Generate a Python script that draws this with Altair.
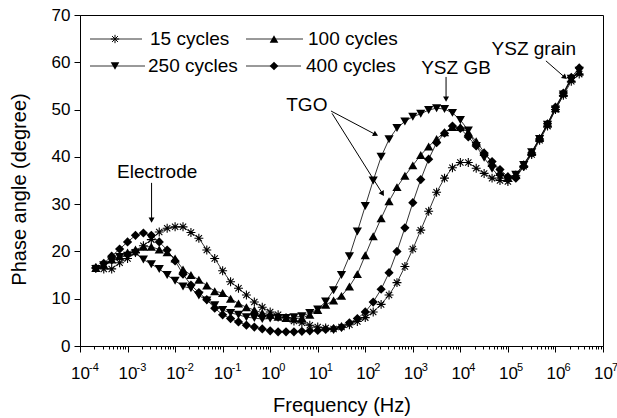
import altair as alt
import pandas as pd

# ---------------- data ----------------
freq = [
    2.154e-4, 3.162e-4, 4.642e-4, 6.813e-4,
    1e-3, 1.468e-3, 2.154e-3, 3.162e-3, 4.642e-3, 6.813e-3,
    1e-2, 1.468e-2, 2.154e-2, 3.162e-2, 4.642e-2, 6.813e-2,
    1e-1, 1.468e-1, 2.154e-1, 3.162e-1, 4.642e-1, 6.813e-1,
    1.0, 1.468, 2.154, 3.162, 4.642, 6.813,
    10.0, 14.68, 21.54, 31.62, 46.42, 68.13,
    100.0, 146.8, 215.4, 316.2, 464.2, 681.3,
    1e3, 1.468e3, 2.154e3, 3.162e3, 4.642e3, 6.813e3,
    1e4, 1.468e4, 2.154e4, 3.162e4, 4.642e4, 6.813e4,
    1e5, 1.468e5, 2.154e5, 3.162e5, 4.642e5, 6.813e5,
    1e6, 1.468e6, 2.154e6, 3.162e6,
]

phase_15 = [
    16.5, 16.3, 16.3, 17.6, 18.5, 19.8, 21.2, 22.5, 24.1, 24.9,
    25.2, 25.2, 24.0, 22.8, 20.3, 18.5, 15.9, 13.6, 12.2, 10.8,
    9.3, 8.2, 7.2, 6.6, 6.0, 5.3, 4.9, 4.4, 4.0, 3.8,
    3.6, 4.0, 4.5, 5.2, 6.0, 7.2, 8.8, 10.8, 13.4, 16.8,
    20.5, 24.5, 28.5, 32.5, 35.5, 37.7, 38.8, 38.8, 37.6, 36.5,
    35.5, 35.0, 34.8, 36.0, 38.0, 40.5, 43.5, 46.5, 50.0, 53.0,
    56.0, 57.5,
]

phase_100 = [
    16.5, 17.2, 18.3, 19.0, 19.8, 20.4, 21.0, 21.0, 20.4, 19.8,
    18.5, 16.2, 15.0, 14.0, 12.8, 11.6, 11.2, 10.0, 9.0, 8.2,
    7.6, 7.0, 6.6, 6.2, 5.9, 5.8, 5.9, 6.6, 7.6, 8.7,
    9.6, 10.6, 12.6, 15.2, 19.2, 23.2, 27.0, 30.6, 33.6, 36.0,
    38.2, 40.4, 42.2, 43.8, 45.2, 46.3, 46.3, 45.2, 43.3, 41.0,
    38.7, 36.8, 35.6, 36.3, 38.5, 41.0, 44.0, 47.0, 50.3, 53.5,
    56.5, 58.0,
]

phase_250 = [
    16.3, 17.1, 17.9, 18.8, 19.1, 19.6, 18.3, 17.3, 16.3, 15.0,
    13.8, 12.6, 12.2, 10.7, 9.6, 8.6, 7.6, 7.0, 6.6, 6.1,
    5.9, 5.7, 5.8, 5.9, 5.9, 6.1, 6.3, 7.0, 7.7, 9.4,
    11.8, 15.0, 19.0, 24.2, 29.6, 35.0, 40.0, 43.7, 46.1, 47.5,
    48.5, 49.1, 49.9, 50.3, 50.1, 49.3, 47.8, 45.6, 42.3, 39.8,
    37.5, 35.7, 35.0, 36.2, 38.3, 41.0, 43.8, 46.8, 50.0, 53.2,
    56.5, 58.2,
]

phase_400 = [
    16.5, 17.5, 19.0, 20.5, 22.0, 23.4, 23.9, 23.4, 22.0, 20.3,
    18.0, 15.2, 12.9, 11.3, 9.8, 8.0, 6.6, 5.8, 5.1, 4.4,
    4.0, 3.6, 3.2, 3.0, 3.0, 3.0, 3.1, 3.2, 3.3, 3.5,
    3.6, 4.0, 4.9, 5.8, 7.2, 9.3, 12.0, 15.5, 20.0, 25.0,
    30.3, 35.2, 39.5, 43.0, 45.0, 46.5, 46.0, 44.2, 42.3, 40.8,
    39.0, 37.3, 35.8, 35.5, 38.0, 40.8, 43.8, 47.0, 50.5, 53.5,
    56.8, 58.8,
]

series_names = ["15 cycles", "100 cycles", "250 cycles", "400 cycles"]

x_exponents = [-4, -3, -2, -1, 0, 1, 2, 3, 4, 5, 6, 7]
y_ticks = [0, 5, 10, 15, 20, 25, 30, 35, 40, 45, 50, 55, 60, 65, 70]

# annotations (text in data coordinates)
ann_text = ["Electrode", "TGO", "YSZ GB", "YSZ grain"]
ann_x = [4.2e-3, 5.9, 8100.0, 3.5e5]
ann_y = [36.8, 51.0, 58.8, 62.8]

# arrows: start -> end (end = arrow head)
arr_x1 = [3.2e-3, 19.0, 20.0, 5000.0, 6.3e5]
arr_y1 = [34.5, 49.7, 49.2, 56.9, 60.3]
arr_x2 = [3.2e-3, 166.0, 231.0, 5000.0, 1.58e6]
arr_y2 = [26.6, 44.7, 32.2, 52.2, 56.8]
arr_ang = [180, 118, 148, 180, 131]

# ---------------- build tables ----------------
rows = []
for name, vals in zip(series_names, [phase_15, phase_100, phase_250, phase_400]):
    for f, v in zip(freq, vals):
        rows.append({"freq": f, "phase": v, "series": name})
df = pd.DataFrame(rows)

ann_df = pd.DataFrame({"text": ann_text, "x": ann_x, "y": ann_y})
arr_df = pd.DataFrame({"x1": arr_x1, "y1": arr_y1, "x2": arr_x2, "y2": arr_y2, "ang": arr_ang})
exp_df = pd.DataFrame({"x": [10.0 ** e for e in x_exponents], "lab": [str(e) for e in x_exponents]})

FONT = "Liberation Sans"
W, H = 523, 331
ASTERISK = "M0,-1L0,1M-1,0L1,0M-0.7,-0.7L0.7,0.7M-0.7,0.7L0.7,-0.7"

major_x = [10.0 ** e for e in x_exponents]
minor_x = [m * 10.0 ** e for e in range(-4, 7) for m in range(2, 10)]
x_values = sorted(major_x + minor_x)

is_decade = "abs(log(datum.value)/LN10 - round(log(datum.value)/LN10)) < 0.001"

xscale = alt.Scale(type="log", domain=[1e-4, 1e7], nice=False)
yscale = alt.Scale(domain=[0, 70], nice=False)

x_axis = alt.Axis(
    values=x_values,
    labelExpr=f"{is_decade} ? '10' : ''",
    tickSize={"condition": {"test": is_decade, "value": 6}, "value": 3},
    labelOverlap=False,
    labelFont=FONT, labelFontSize=17, labelColor="black", labelPadding=13,
    labelFlush=False,
    title="Frequency (Hz)", titleFont=FONT, titleFontSize=20, titleFontWeight="normal",
    titleColor="black", titleY=59, titleBaseline="middle",
    domainColor="black", tickColor="black", grid=False,
)
y_axis = alt.Axis(
    values=y_ticks,
    labelExpr="datum.value % 10 === 0 ? datum.label : ''",
    tickSize={"condition": {"test": "datum.value % 10 === 0", "value": 6}, "value": 3},
    labelOverlap=False,
    labelFont=FONT, labelFontSize=17, labelColor="black", labelPadding=4,
    title="Phase angle (degree)", titleFont=FONT, titleFontSize=20, titleFontWeight="normal",
    titleColor="black", titleX=-61, titleY=174, titleBaseline="middle",
    domainColor="black", tickColor="black", grid=False,
)

base = alt.Chart(df)

lines = base.mark_line(color="black", strokeWidth=0.8).encode(
    x=alt.X("freq:Q", scale=xscale, axis=x_axis),
    y=alt.Y("phase:Q", scale=yscale, axis=y_axis),
    detail="series:N",
)

shape_scale = alt.Scale(domain=series_names,
                        range=[ASTERISK, "triangle-up", "triangle-down", "diamond"])

filled_pts = base.transform_filter(
    alt.datum.series != "15 cycles"
).mark_point(filled=True, color="black", opacity=1, size=85).encode(
    x=alt.X("freq:Q", scale=xscale),
    y=alt.Y("phase:Q", scale=yscale),
    shape=alt.Shape("series:N", scale=shape_scale, legend=None),
)

star_pts = base.transform_filter(
    alt.datum.series == "15 cycles"
).mark_point(filled=False, color="black", opacity=1, size=80, strokeWidth=1.1).encode(
    x=alt.X("freq:Q", scale=xscale),
    y=alt.Y("phase:Q", scale=yscale),
    shape=alt.Shape("series:N", scale=shape_scale, legend=None),
)

exps = alt.Chart(exp_df).mark_text(
    font=FONT, fontSize=11, align="left", baseline="middle", color="black", dx=9
).encode(x=alt.X("x:Q", scale=xscale), y=alt.value(H + 22), text="lab:N")

ann = alt.Chart(ann_df).mark_text(
    font=FONT, fontSize=19, align="center", baseline="middle", color="black"
).encode(
    x=alt.X("x:Q", scale=xscale),
    y=alt.Y("y:Q", scale=yscale),
    text="text:N",
)

arr_lines = alt.Chart(arr_df).mark_rule(color="black", strokeWidth=1).encode(
    x=alt.X("x1:Q", scale=xscale), x2="x2:Q",
    y=alt.Y("y1:Q", scale=yscale), y2="y2:Q",
)
arr_heads = alt.Chart(arr_df).mark_point(
    shape="triangle-up", filled=True, color="black", opacity=1, size=36
).encode(
    x=alt.X("x2:Q", scale=xscale),
    y=alt.Y("y2:Q", scale=yscale),
    angle=alt.Angle("ang:Q", scale=None),
)

# legend (drawn inside the plot, top-left)
one = pd.DataFrame({"a": [0]})
legend_layers = []
legend_spec = [
    ("15 cycles", ASTERISK, False, 10, 62, 35, 70, 24),
    ("100 cycles", "triangle-up", True, 166, 223, 194, 228, 24),
    ("250 cycles", "triangle-down", True, 10, 65, 35, 68, 51),
    ("400 cycles", "diamond", True, 166, 221, 194, 226, 51),
]
for label, shp, fill, lx1, lx2, mx, tx, yy in legend_spec:
    legend_layers.append(
        alt.Chart(one).mark_rule(color="black", strokeWidth=0.8).encode(
            x=alt.value(lx1), x2=alt.value(lx2), y=alt.value(yy)))
    legend_layers.append(
        alt.Chart(one).mark_point(shape=shp, filled=fill, color="black", opacity=1,
                                  size=75 if fill else 70, strokeWidth=1).encode(
            x=alt.value(mx), y=alt.value(yy)))
    legend_layers.append(
        alt.Chart(one).mark_text(text=label, font=FONT, fontSize=19, align="left",
                                 baseline="middle", color="black").encode(
            x=alt.value(tx), y=alt.value(yy)))

chart = alt.layer(
    lines, star_pts, filled_pts, exps, ann, arr_lines, arr_heads, *legend_layers
).properties(
    width=W, height=H,
    autosize=alt.AutoSizeParams(type="none"),
    padding={"left": 80, "top": 15, "right": 14, "bottom": 72},
    background="white",
).configure_view(stroke="black", strokeWidth=1)

chart.save("out.html", embed_options={"renderer": "svg", "actions": False})
